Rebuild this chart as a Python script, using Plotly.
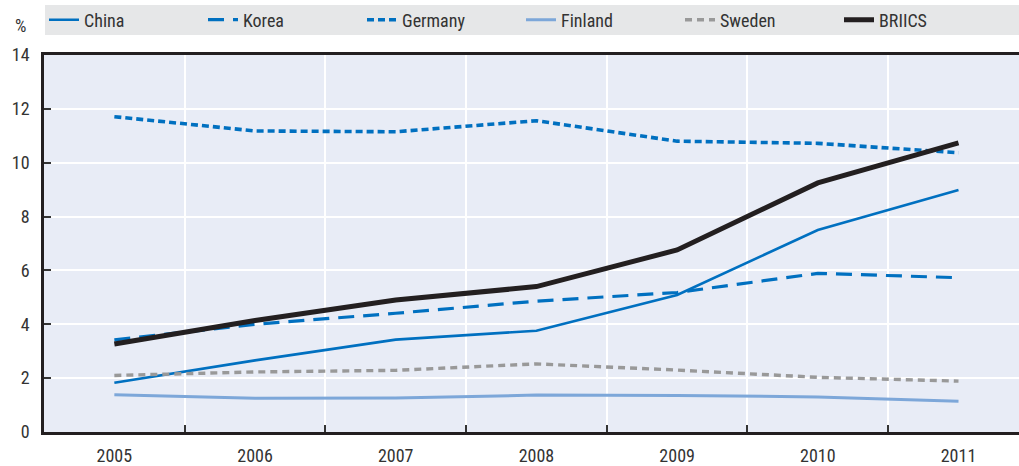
import plotly.graph_objects as go

years = ["2005", "2006", "2007", "2008", "2009", "2010", "2011"]
china = [1.83, 2.66, 3.43, 3.76, 5.09, 7.50, 8.99]
korea = [3.42, 4.00, 4.41, 4.86, 5.18, 5.89, 5.73]
germany = [11.71, 11.18, 11.15, 11.56, 10.80, 10.72, 10.37]
finland = [1.38, 1.25, 1.26, 1.37, 1.36, 1.30, 1.14]
sweden = [2.10, 2.23, 2.29, 2.53, 2.30, 2.03, 1.89]
briics = [3.27, 4.14, 4.90, 5.40, 6.76, 9.25, 10.74]

BLUE = "#0070C0"
series = [
    ("China", china, dict(color=BLUE, width=2.6)),
    ("Korea", korea, dict(color=BLUE, width=3.2, dash="16px,9px")),
    ("Germany", germany, dict(color=BLUE, width=3.6, dash="7px,4px")),
    ("Finland", finland, dict(color="#7DA7D9", width=3)),
    ("Sweden", sweden, dict(color="#999999", width=3.4, dash="7px,5px")),
    ("BRIICS", briics, dict(color="#231F20", width=5)),
]

fig = go.Figure()
for name, vals, line in series:
    fig.add_trace(go.Scatter(x=years, y=vals, name=name, mode="lines", line=line))

FONT = "Liberation Sans Narrow, Arial Narrow, Roboto Condensed, sans-serif"
FS = 18

fig.update_layout(
    width=1019, height=466,
    margin=dict(l=44, r=0, t=55, b=34, autoexpand=False),
    paper_bgcolor="white",
    plot_bgcolor="#E8ECF6",
    font=dict(family=FONT, size=FS, color="#333333"),
    showlegend=True,
    legend=dict(
        orientation="h", x=0.0, xanchor="left", y=1 + 35 / 377, yanchor="middle",
        bgcolor="rgba(0,0,0,0)", entrywidth=114, entrywidthmode="pixels",
        font=dict(family=FONT, size=FS, color="#333333"),
        itemclick=False, tracegroupgap=0,
    ),
    shapes=[dict(type="rect", xref="paper", yref="paper", x0=0.001, x1=1,
                 y0=1 + 20 / 377, y1=1 + 50 / 377, fillcolor="#E6E7E8",
                 line=dict(width=0), layer="below")],
    annotations=[dict(text="%", xref="paper", yref="paper", x=(20 - 44) / 975,
                      y=1 + 30 / 377, xanchor="center", yanchor="middle",
                      showarrow=False, font=dict(family=FONT, size=FS, color="#333333"))],
)

fig.update_xaxes(
    type="category", range=[-0.5, 6.43], tickson="boundaries",
    ticks="inside", ticklen=7, tickcolor="#333333", tickwidth=1.5,
    showgrid=True, gridcolor="white", gridwidth=1.5,
    showline=True, linecolor="#231F20", linewidth=2.5, mirror=True,
    ticklabelstandoff=6, tickfont=dict(family=FONT, size=FS, color="#333333"),
)
fig.update_yaxes(
    range=[0, 14], tickvals=[0, 2, 4, 6, 8, 10, 12, 14],
    ticks="inside", ticklen=7, tickcolor="#333333", tickwidth=1.5,
    showgrid=True, gridcolor="white", gridwidth=1.5, zeroline=False,
    showline=True, linecolor="#231F20", linewidth=2.5,
    ticklabelstandoff=8, tickfont=dict(family=FONT, size=FS, color="#333333"),
)

fig.write_html("out.html", config={"displayModeBar": False},
               post_script="document.body.style.margin='0';")
